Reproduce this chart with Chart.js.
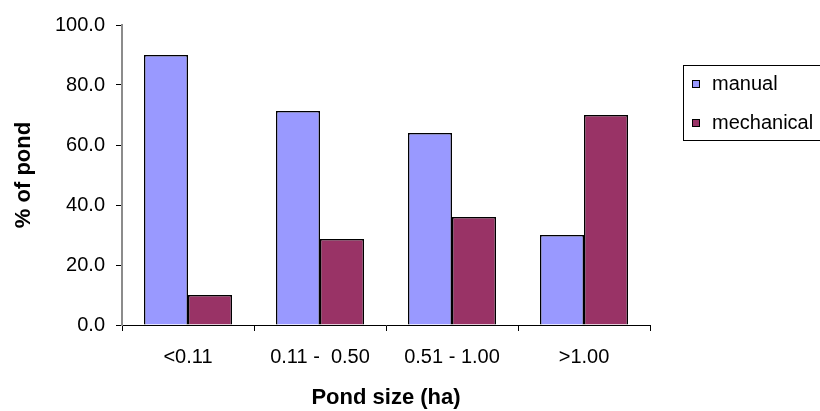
<!DOCTYPE html>
<html>
<head>
<meta charset="utf-8">
<title>Pond size</title>
<script src="https://cdn.jsdelivr.net/npm/chart.js@4/dist/chart.umd.min.js"></script>
<style>
  html, body { margin: 0; padding: 0; background: #fff; }
  #wrap { width: 820px; height: 411px; }
</style>
</head>
<body>
<div id="wrap"><canvas id="c" width="820" height="411"></canvas></div>
<script>
// Share of ponds by harvesting method, per pond size class
const pondSizes = ['<0.11', '0.11 -  0.50', '0.51 - 1.00', '>1.00'];
const manualShare = [90.0, 71.3, 64.0, 30.0];
const mechanicalShare = [10.0, 28.7, 36.0, 70.0];
const seriesNames = ['manual', 'mechanical'];
const yTicks = [0, 20, 40, 60, 80, 100];

const FONT = "'Liberation Sans', Arial, Helvetica, sans-serif";
Chart.defaults.font.family = FONT;
Chart.defaults.color = '#000';

// Boxed legend on the right, built from the datasets
const boxedLegend = {
  id: 'boxedLegend',
  afterDraw(chart) {
    const ctx = chart.ctx;
    ctx.save();
    ctx.strokeStyle = '#000';
    ctx.lineWidth = 1;
    ctx.strokeRect(683.5, 65.5, 140, 75);
    ctx.font = '20px ' + FONT;
    ctx.textBaseline = 'middle';
    ctx.textAlign = 'left';
    chart.data.datasets.forEach((ds, i) => {
      const cy = 84 + i * 39;
      ctx.fillStyle = ds.backgroundColor;
      ctx.fillRect(692, cy - 4, 8, 8);
      ctx.strokeStyle = '#000';
      ctx.strokeRect(692.5, cy - 3.5, 7, 7);
      ctx.fillStyle = '#000';
      ctx.fillText(ds.label, 712, cy);
    });
    ctx.restore();
  }
};

new Chart(document.getElementById('c'), {
  type: 'bar',
  data: {
    labels: pondSizes,
    datasets: [
      {
        label: seriesNames[0],
        data: manualShare,
        backgroundColor: '#9999FF',
        borderColor: '#000',
        borderWidth: 1.5
      },
      {
        label: seriesNames[1],
        data: mechanicalShare,
        backgroundColor: '#993366',
        borderColor: '#000',
        borderWidth: 1.5
      }
    ]
  },
  options: {
    responsive: false,
    animation: false,
    devicePixelRatio: 1,
    layout: { padding: { left: 0, right: 170, top: 25, bottom: 0 } },
    datasets: {
      bar: { categoryPercentage: 0.667, barPercentage: 1.0 }
    },
    plugins: {
      legend: { display: false },
      tooltip: { enabled: false }
    },
    scales: {
      x: {
        afterFit(scale) { scale.height = 86; },
        grid: {
          offset: true,
          drawOnChartArea: false,
          drawTicks: true,
          tickLength: 6,
          color: '#000'
        },
        border: { color: '#000', width: 1 },
        ticks: {
          font: { size: 20 },
          padding: 14,
          maxRotation: 0,
          autoSkip: false
        },
        title: {
          display: true,
          text: 'Pond size (ha)',
          font: { size: 22, weight: 'bold' },
          padding: { top: 0, bottom: 0 }
        }
      },
      y: {
        min: 0,
        max: 100,
        afterFit(scale) { scale.width = 122; },
        afterBuildTicks(scale) { scale.ticks = yTicks.map(v => ({ value: v })); },
        grid: {
          drawOnChartArea: false,
          drawTicks: true,
          tickLength: 6,
          color: '#000'
        },
        border: { color: '#8c8c8c', width: 2 },
        ticks: {
          font: { size: 20 },
          padding: 11,
          callback: v => Number(v).toFixed(1)
        },
        title: {
          display: true,
          text: '% of pond',
          font: { size: 22, weight: 'bold' },
          padding: { top: 11, bottom: 0 }
        }
      }
    }
  },
  plugins: [boxedLegend]
});
</script>
</body>
</html>
